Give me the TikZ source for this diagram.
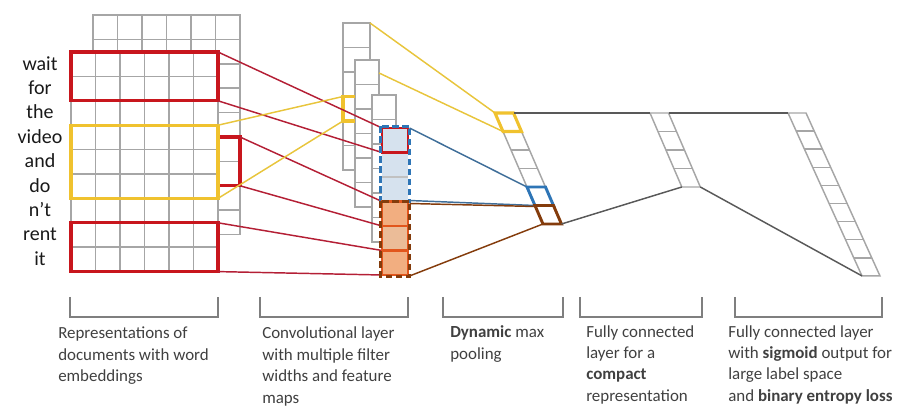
\documentclass[tikz,border=0pt]{standalone}
\usepackage{fontspec}
\setmainfont{Carlito}
\usetikzlibrary{calc}
\definecolor{gridgray}{HTML}{A6A6A6}
\definecolor{boxred}{HTML}{C8161D}
\definecolor{linered}{HTML}{B41F35}
\definecolor{goldy}{HTML}{F0C22E}
\definecolor{goldline}{HTML}{E8C53C}
\definecolor{blueA}{HTML}{2E75B6}
\definecolor{blueline}{HTML}{3F6E99}
\definecolor{bluefill}{HTML}{D6E2EE}
\definecolor{brownA}{HTML}{843C0C}
\definecolor{orangeB}{HTML}{E2561C}
\definecolor{orangefill}{HTML}{F2AE80}
\definecolor{orangefillB}{HTML}{EBBC98}
\definecolor{conngray}{HTML}{595959}
\definecolor{brackgray}{HTML}{7F7F7F}
\definecolor{txtgray}{HTML}{404040}
\tikzset{
  gridline/.style={draw=gridgray, line width=1.1pt},
  redbox/.style={draw=boxred, line width=2.3pt},
  yelbox/.style={draw=goldy, line width=2.3pt},
  redconn/.style={draw=linered, line width=1.1pt},
  yelconn/.style={draw=goldline, line width=1.1pt},
  blueconn/.style={draw=blueline, line width=1.1pt},
  brownconn/.style={draw=brownA, line width=1.1pt},
  grayconn/.style={draw=conngray, line width=1.1pt},
  brackline/.style={draw=brackgray, line width=1.9pt},
  wordtxt/.style={anchor=base, inner sep=0pt, text=black!90, font=\fontsize{15}{18}\selectfont},
  captxt/.style={anchor=base west, inner sep=0pt, text=txtgray, font=\fontsize{12.7}{16.1}\selectfont}
}
\begin{document}
\begin{tikzpicture}[x=0.75pt,y=-0.75pt]
\useasboundingbox (0,0) rectangle (920,416);

% ---------- embedding matrix (back layer)
\filldraw[gridline, fill=white] (93,15) rectangle (240,234.6);
\foreach \i in {1,...,5} \draw[gridline] ({93+24.5*\i},15) -- ({93+24.5*\i},234.6);
\foreach \j in {1,...,8} \draw[gridline] (93,{15+24.4*\j}) -- (240,{15+24.4*\j});
\draw[redbox] (218,137) -- (240,137) -- (240,185.8) -- (218,185.8);

% ---------- embedding matrix (front layer)
\filldraw[gridline, fill=white] (71,52) rectangle (218,271.6);
\foreach \i in {1,...,5} \draw[gridline] ({71+24.5*\i},52) -- ({71+24.5*\i},271.6);
\foreach \j in {1,...,8} \draw[gridline] (71,{52+24.4*\j}) -- (218,{52+24.4*\j});

% words
\foreach \w [count=\k from 0] in {wait,for,the,video,and,do,n’t,rent,it}
  \node[wordtxt] (w\k) at (40,{52+12.2+24.4*\k+6}) {\w};

% filters on the embedding
\draw[redbox] (71,52) rectangle (218,100.8);
\draw[yelbox] (71,125.2) rectangle (218,198.4);
\draw[redbox] (71,222.8) rectangle (218,271.6);

\coordinate (E1a) at (218,52);   \coordinate (E1b) at (218,100.8);
\coordinate (BKa) at (240,137);  \coordinate (BKb) at (240,185.8);
\coordinate (E2a) at (218,222.8);\coordinate (E2b) at (218,271.6);
\coordinate (Ya) at (218,125.2); \coordinate (Yb) at (218,198.4);

% ---------- convolutional feature maps
\foreach \cx/\cy/\cw in {343/23/27, 355/60/24, 372/95/24} {
  \filldraw[gridline, fill=white] (\cx,\cy) rectangle ++(\cw,147);
  \foreach \k in {1,...,5} \draw[gridline] (\cx,{\cy+24.5*\k}) -- ++(\cw,0);
}
\coordinate (Atr) at (370,23);
\coordinate (Bmr) at (379,73);
\coordinate (AY1) at (343,96.5);
\coordinate (AY2) at (343,121);
\draw[yelbox] (355,96.5) -- (AY1) -- (AY2) -- (355,121);

% front column D
\foreach \k in {0,...,6} {
  \coordinate (Dl\k) at (382,{128+24.5*\k});
  \coordinate (Dr\k) at (408,{128+24.5*\k});
}

% connectors embedding -> conv
\draw[redconn] (E1a) -- (Dl0);
\draw[redconn] (E1b) -- (Dl1);
\draw[redconn] (BKa) -- (Dl3);
\draw[redconn] (BKb) -- (Dl4);
\draw[redconn] (E2a) -- (Dl5);
\draw[redconn] (E2b) -- (Dl6);
\draw[yelconn] (Ya) -- (AY1);
\draw[yelconn] (Yb) -- (AY2);

% column D cells
\fill[bluefill] (Dl0) rectangle (Dr3);
\draw[gridgray!70, line width=1pt] (Dl1) -- (Dr1) (Dl2) -- (Dr2);
\draw[draw=boxred, line width=2pt] (Dl0) rectangle (Dr1);
\draw[draw=blueA, line width=2.4pt, dash pattern=on 5pt off 2.5pt] (380.5,126.5) rectangle (409.5,201.5);
\fill[orangefill] (Dl3) rectangle (Dr4);
\fill[orangefillB] (Dl4) rectangle (Dr5);
\fill[orangefill] (Dl5) rectangle (Dr6);
\draw[draw=orangeB, line width=2pt] (Dl3) rectangle (Dr6) (Dl4) -- (Dr4) (Dl5) -- (Dr5);
\draw[draw=brownA, line width=2.4pt, dash pattern=on 5pt off 2.5pt] (380.5,201.5) rectangle (409.5,276.5);

% ---------- dynamic max pooling
\foreach \k in {0,...,6} {
  \coordinate (Pl\k) at ({495+0.432*18.5*\k},{113+18.5*\k});
  \coordinate (Pr\k) at ({513.5+0.432*18.5*\k},{113+18.5*\k});
}
\draw[gridline] (Pl0) -- (Pl6) -- (Pr6) -- (Pr0) -- cycle;
\foreach \k in {1,...,5} \draw[gridline] (Pl\k) -- (Pr\k);

% connectors conv -> pooling
\draw[yelconn] (Atr) -- (Pl0);
\draw[yelconn] (Bmr) -- (Pl1);
\draw[blueconn] (409.5,128) -- (Pl4);
\draw[blueconn] (409.5,200.5) -- (Pl5);
\draw[brownconn] (409.5,203.5) -- ($(Pl5)+(0,1)$);
\draw[brownconn] (409.5,276) -- (Pl6);

\draw[yelbox] (Pl0) -- (Pr0) -- (Pr1) -- (Pl1) -- cycle;
\draw[draw=blueA, line width=2.2pt] (Pl4) -- (Pr4) -- (Pr5) -- (Pl5) -- cycle;
\draw[draw=brownA, line width=2.2pt] (Pl5) -- (Pr5) -- (Pr6) -- (Pl6) -- cycle;

% ---------- fully connected layer 1
\foreach \k in {0,...,4} {
  \coordinate (Fl\k) at ({650+0.43*18.5*\k},{113+18.5*\k});
  \coordinate (Fr\k) at ({668.5+0.43*18.5*\k},{113+18.5*\k});
}
\draw[gridline] (Fl0) -- (Fl4) -- (Fr4) -- (Fr0) -- cycle;
\foreach \k in {1,...,3} \draw[gridline] (Fl\k) -- (Fr\k);

% ---------- fully connected layer 2
\foreach \k in {0,...,9} {
  \coordinate (Gl\k) at ({788+0.454*18.1*\k},{113+18.1*\k});
  \coordinate (Gr\k) at ({806+0.454*18.1*\k},{113+18.1*\k});
}
\draw[gridline] (Gl0) -- (Gl9) -- (Gr9) -- (Gr0) -- cycle;
\foreach \k in {1,...,8} \draw[gridline] (Gl\k) -- (Gr\k);

% connectors pooling -> FC -> FC
\draw[grayconn] (Pr0) -- (Fl0);
\draw[grayconn] (Pr6) -- (Fl4);
\draw[grayconn] (Fr0) -- (Gl0);
\draw[grayconn] (Fr4) -- (Gl9);

% ---------- brackets
\foreach \a/\b in {70/218, 260/408, 443/563, 580/702, 735/882}
  \draw[brackline] (\a,297) -- (\a,317) -- (\b,317) -- (\b,297);

% ---------- captions
\node[captxt] (c1) at (58,339) {\begin{tabular}[t]{@{}l@{}}Representations of\\ documents with word\\ embeddings\end{tabular}};
\node[captxt] (c2) at (262,339) {\begin{tabular}[t]{@{}l@{}}Convolutional layer\\ with multiple filter\\ widths and feature\\ maps\end{tabular}};
\node[captxt] (c3) at (450,338) {\begin{tabular}[t]{@{}l@{}}\textbf{Dynamic} max\\ pooling\end{tabular}};
\node[captxt] (c4) at (586,337) {\begin{tabular}[t]{@{}l@{}}Fully connected\\ layer for a\\ \textbf{compact}\\ representation\end{tabular}};
\node[captxt] (c5) at (728,337) {\begin{tabular}[t]{@{}l@{}}Fully connected layer\\ with \textbf{sigmoid} output for\\ large label space\\ and \textbf{binary entropy loss}\end{tabular}};
\end{tikzpicture}
\end{document}
